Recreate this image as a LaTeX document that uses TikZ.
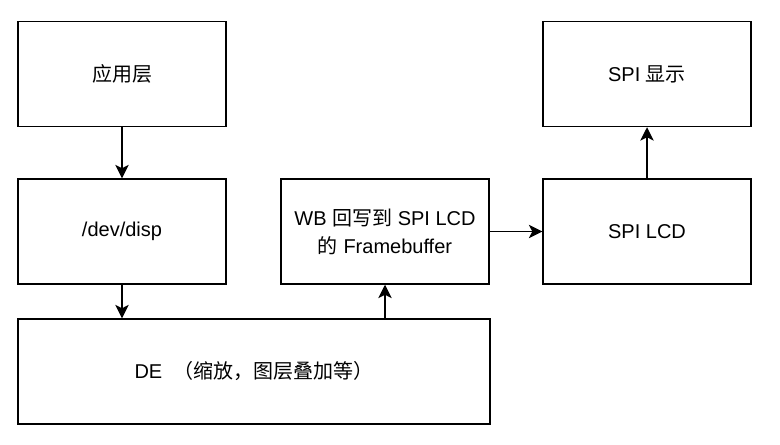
\documentclass[tikz,border=0pt]{standalone}
\usepackage{fontspec}
\setmainfont{Liberation Sans}
\newfontfamily\cjk{Noto Sans CJK SC}
\usetikzlibrary{arrows.meta, positioning}

\begin{document}
\begin{tikzpicture}[
  x=0.75pt, y=-0.75pt,
  block/.style={rectangle, draw, line width=1.1pt, minimum width=156pt, minimum height=78.75pt, align=center, inner sep=0pt, font=\fontsize{15}{21}\selectfont},
  arr/.style={-{Stealth[length=10pt, width=10pt, inset=2.5pt]}, line width=1.1pt},
]
  \useasboundingbox (0,0) rectangle (780,445);

  \node[block] (app) at (122,74) {\cjk 应用层};
  \node[block] (disp) at (122,231.5) {/dev/disp};
  \node[block, minimum width=354pt] (de) at (254,371.5) {DE \ {\cjk （缩放，图层叠加等）}};
  \node[block] (wb) at (385,231.5) {WB {\cjk 回写到} SPI LCD\\{\cjk 的} Framebuffer};
  \node[block] (lcd) at (647,231.5) {SPI LCD};
  \node[block] (show) at (647,74) {SPI {\cjk 显示}};

  \draw[arr] (app) -- (disp);
  \draw[arr] (disp.south) -- (disp.south |- de.north);
  \draw[arr] (de.north -| wb.south) -- (wb.south);
  \draw[arr] (wb) -- (lcd);
  \draw[arr] (lcd) -- (show);
\end{tikzpicture}
\end{document}
